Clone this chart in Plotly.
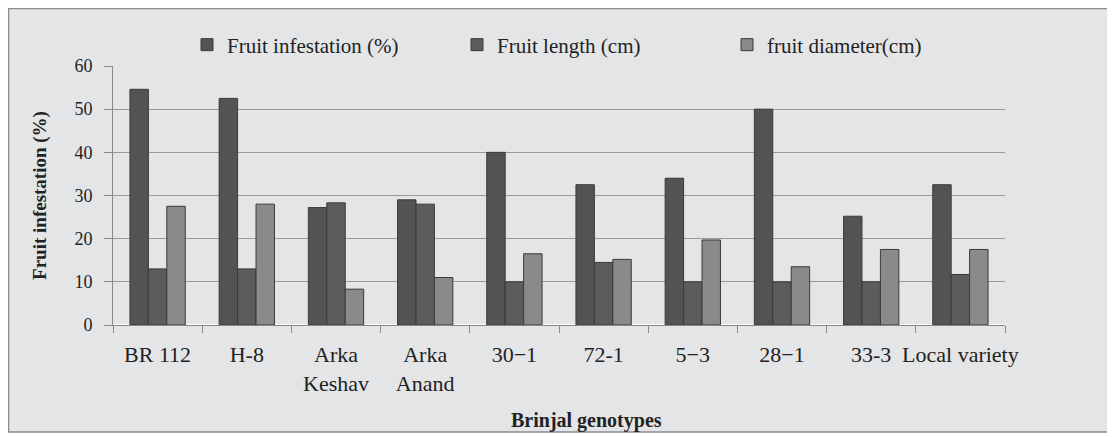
import plotly.graph_objects as go

categories = ["BR 112", "H-8", "Arka<br>Keshav", "Arka<br>Anand", "30\u22121", "72-1", "5\u22123", "28\u22121", "33-3", "Local variety"]
infestation = [54.6, 52.5, 27.2, 29.0, 40.0, 32.5, 34.0, 50.0, 25.2, 32.5]
length_cm = [13.0, 13.0, 28.3, 28.0, 10.0, 14.5, 10.0, 10.0, 10.0, 11.7]
diameter_cm = [27.5, 28.0, 8.3, 11.0, 16.5, 15.2, 19.7, 13.5, 17.5, 17.5]
series_names = ["Fruit infestation (%)", "Fruit length (cm)", "fruit diameter(cm)"]
series_colors = ["#535355", "#5c5c5e", "#8a8a8c"]

fig = go.Figure()
for name, vals, col in zip(series_names, [infestation, length_cm, diameter_cm], series_colors):
    fig.add_trace(go.Bar(x=categories, y=vals, name=name,
                         marker=dict(color=col, line=dict(color="#3a3a3c", width=1))))

font_family = "Liberation Serif"
# figure is offset by the page's 8px body margin; sizes compensate for it
W, H = 1107, 429
L, R, T, B = 105, 110, 58, 112
pw, ph = W - L - R, H - T - B

def px(p):
    return (p - L) / pw

def py(p):
    return (H - B - p) / ph

fig.update_layout(
    width=W, height=H,
    barmode="group", bargap=0.38, bargroupgap=0,
    paper_bgcolor="#ffffff", plot_bgcolor="#ffffff",
    margin=dict(l=L, r=R, t=T, b=B, autoexpand=False),
    font=dict(family=font_family, size=16, color="#222"),
    legend=dict(orientation="h", x=px(179), xanchor="left", y=py(37), yanchor="middle",
                font=dict(size=21, family=font_family, color="#222"), bgcolor="rgba(0,0,0,0)",
                traceorder="normal", entrywidth=225, itemwidth=30),
    showlegend=True,
    shapes=[dict(type="rect", xref="paper", yref="paper", x0=px(0.5), x1=px(1102), y0=py(424), y1=py(0.5),
                 line=dict(color="#8a8a8a", width=1.5), fillcolor="#e4e5e7", layer="below")],
    annotations=[dict(text="<b>Brinjal genotypes</b>", xref="paper", yref="paper",
                      x=px(578), y=py(412), xanchor="center", yanchor="middle", showarrow=False,
                      font=dict(size=20, family=font_family, color="#222"))],
)
fig.update_yaxes(range=[0, 60], dtick=10, showgrid=True, gridcolor="#9a9a9a", gridwidth=1,
                 ticks="outside", ticklen=8, tickcolor="#888", showline=True, linecolor="#888",
                 automargin=False, ticklabelstandoff=8,
                 tickfont=dict(size=18, family=font_family, color="#222"),
                 title=dict(text="<b>Fruit infestation (%)</b>", font=dict(size=19, family=font_family), standoff=22))
fig.update_xaxes(type="category", showline=True, linecolor="#888", ticks="outside", tickson="boundaries", ticklen=7,
                 tickcolor="#888", tickangle=0, automargin=False, ticklabelstandoff=10,
                 tickfont=dict(size=22, family=font_family, color="#222"))

fig.write_html("out.html")
